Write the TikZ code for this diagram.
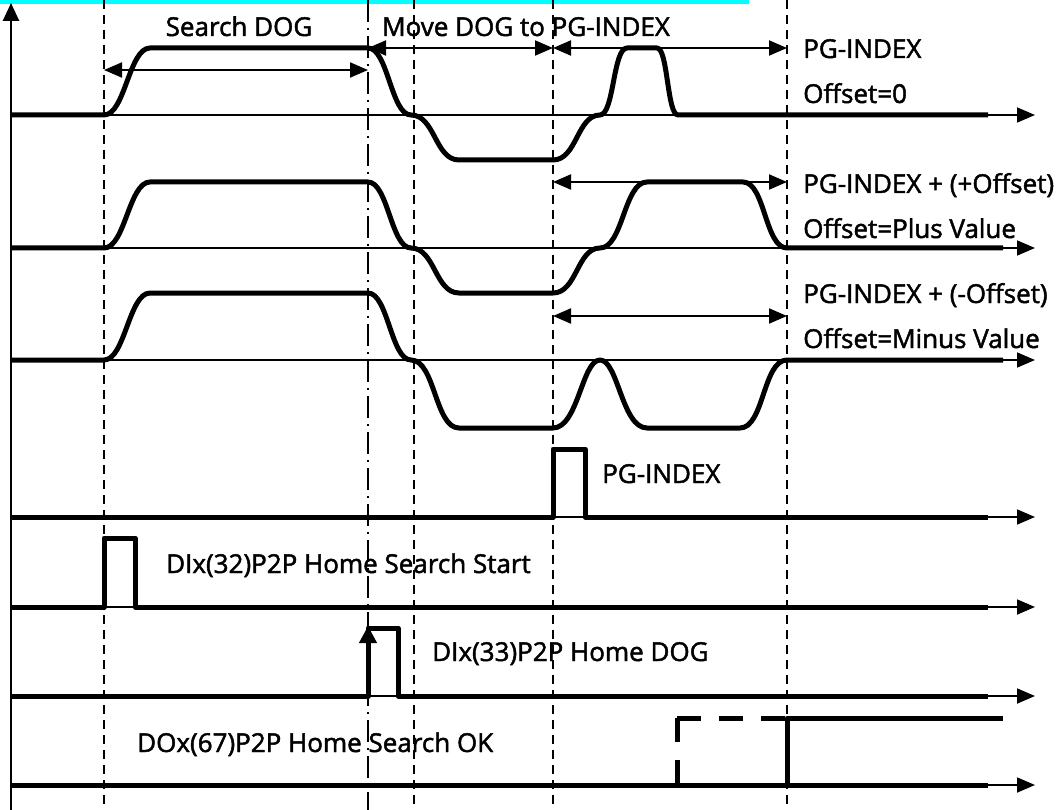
\documentclass[tikz,border=0pt]{standalone}
\usepackage{fontspec}
\setmainfont{Open Sans}
\newfontfamily\lblfont[FakeBold=1.8]{Open Sans}
\usetikzlibrary{arrows.meta}
\definecolor{barcyan}{RGB}{0,255,255}
\begin{document}
\begin{tikzpicture}[x=1pt,y=-1pt,
  sig/.style={line width=5pt, line join=round},
  base/.style={line width=1.8pt,-{Triangle[length=18pt,width=15pt]}},
  vaxis/.style={line width=2.6pt,-{Triangle[length=18pt,width=16pt]}},
  span/.style={line width=2pt,{Triangle[length=18pt,width=15pt]}-{Triangle[length=18pt,width=15pt]}},
  dashv/.style={line width=2pt, dash pattern=on 9pt off 6pt},
  dashdotv/.style={line width=2pt, dash pattern=on 22pt off 6pt on 2pt off 6pt},
  lbl/.style={font=\lblfont\fontsize{26}{30}\selectfont, inner sep=0pt}
]
\useasboundingbox (0,0) rectangle (1062,810);
\fill[barcyan] (0,0) rectangle (749,4);

% time markers
\foreach \x/\n in {104/va,414/vc,553/vd,787/ve}{
  \coordinate (\n t) at (\x,0); \coordinate (\n b) at (\x,810);
  \draw[dashv] (\n t) -- (\n b);
}
\coordinate (vbt) at (368,0); \coordinate (vbb) at (368,810);
\draw[dashdotv] (vbt) -- (vbb);

% vertical axis
\coordinate (ax0) at (11,810); \coordinate (ax1) at (11,3);
\draw[vaxis] (ax0) -- (ax1);

% baselines
\foreach \y/\n in {115/b1,248/b2,360/b3,517/b4,607/b5,696/b6,785/b7}{
  \coordinate (\n s) at (11,\y); \coordinate (\n e) at (1035,\y);
  \draw[base] (\n s) -- (\n e);
}

% row 1
\draw[sig] (b1s) -- (104,115) .. controls (125,115) and (129,48) .. (150,48) -- (368,48)
  .. controls (388,48) and (391,115) .. (411,115) .. controls (435,115) and (435,160) .. (459,160)
  -- (553,160) .. controls (577,160) and (577,115) .. (600,115) .. controls (614,115) and (613,48) .. (627,48)
  -- (657,48) .. controls (668,48) and (667,115) .. (678,115) -- (988,115);
% row 2
\draw[sig] (b2s) -- (104,248) .. controls (125,248) and (129,182) .. (150,182) -- (368,182)
  .. controls (388,182) and (391,248) .. (411,248) .. controls (435,248) and (435,293) .. (459,293)
  -- (553,293) .. controls (577,293) and (577,248) .. (600,248) .. controls (623,248) and (624,182) .. (647,182)
  -- (743,182) .. controls (765,182) and (765,248) .. (787,248) -- (1003,248);
% row 3
\draw[sig] (b3s) -- (104,360) .. controls (125,360) and (129,293) .. (150,293) -- (368,293)
  .. controls (388,293) and (391,360) .. (411,360) .. controls (435,360) and (435,428) .. (459,428)
  -- (553,428) .. controls (578,428) and (582,360) .. (600,360) .. controls (618,360) and (622,428) .. (647,428)
  -- (740,428) .. controls (764,428) and (763,360) .. (787,360) -- (1003,360);
% row 4
\draw[sig] (b4s) -- (553,517) -- (553,449) -- (585,449) -- (585,517) -- (988,517);
% row 5
\draw[sig] (b5s) -- (104,607) -- (104,538) -- (135,538) -- (135,607) -- (988,607);
% row 6
\draw[sig] (b6s) -- (368,696) -- (368,628) -- (398,628) -- (398,696) -- (988,696);
\coordinate (up0) at (368,670); \coordinate (up1) at (368,626);
\draw[line width=4pt,-{Triangle[length=17pt,width=17pt]}] (up0) -- (up1);
% row 7
\draw[sig] (b7s) -- (988,785);
\draw[sig, dash pattern=on 24pt off 18pt] (677,718) -- (677,785);
\draw[sig, dash pattern=on 24pt off 18pt] (677,718) -- (787,718);
\draw[sig] (787,785) -- (787,718) -- (1003,718);

% span arrows
\coordinate (s1a) at (104,70); \coordinate (s1b) at (368,70);
\coordinate (s2a) at (368,48); \coordinate (s2b) at (553,48);
\coordinate (s3a) at (553,48); \coordinate (s3b) at (787,48);
\coordinate (s4a) at (553,182); \coordinate (s4b) at (787,182);
\coordinate (s5a) at (553,316); \coordinate (s5b) at (787,316);
\draw[span] (s1a) -- (s1b);
\draw[span] (s2a) -- (s2b);
\draw[span] (s3a) -- (s3b);
\draw[span] (s4a) -- (s4b);
\draw[span] (s5a) -- (s5b);

% labels
\node[lbl,anchor=base] (tsearch) at (239,36) {Search DOG};
\node[lbl,anchor=base] (tmove) at (526,36) {Move DOG to PG-INDEX};
\node[lbl,anchor=base west] (t1a) at (803,58) {PG-INDEX};
\node[lbl,anchor=base west] (t1b) at (803,103) {Offset=0};
\node[lbl,anchor=base west] (t2a) at (803,193) {PG-INDEX + (+Offset)};
\node[lbl,anchor=base west] (t2b) at (803,238) {Offset=Plus Value};
\node[lbl,anchor=base west] (t3a) at (803,303) {PG-INDEX + (-Offset)};
\node[lbl,anchor=base west] (t3b) at (803,348) {Offset=Minus Value};
\node[lbl,anchor=base west] (t4) at (602,483) {PG-INDEX};
\node[lbl,anchor=base west] (t5) at (166,573) {DIx(32)P2P Home Search Start};
\node[lbl,anchor=base west] (t6) at (432,661) {DIx(33)P2P Home DOG};
\node[lbl,anchor=base west] (t7) at (137,752) {DOx(67)P2P Home Search OK};
\end{tikzpicture}
\end{document}
